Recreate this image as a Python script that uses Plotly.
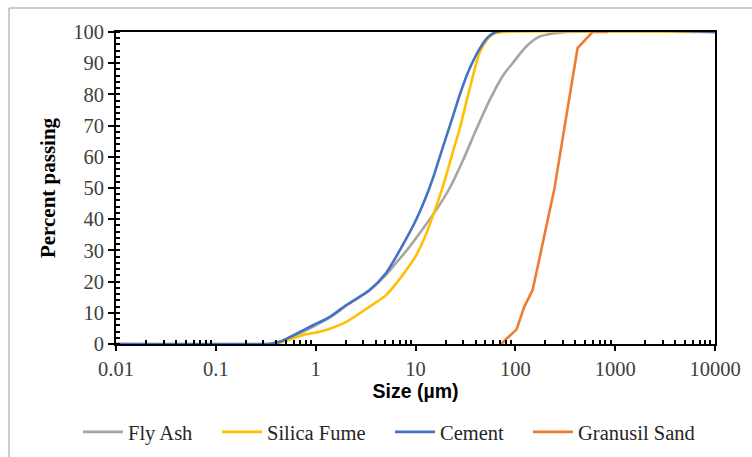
import plotly.graph_objects as go

# ---- data ----
fly_ash_x = [0.01, 0.33, 0.4, 0.5, 0.7, 1.0, 1.4, 2.03, 3.47, 5, 6.4, 8.4, 11, 16.1, 22, 30, 40.4, 55, 75, 94, 130, 174, 250, 330, 10000]
fly_ash_y = [0, 0, 0.3, 1.5, 3.5, 6, 8.6, 12.3, 17.2, 22, 26, 30.5, 35.5, 42.9, 50, 59, 68.6, 78, 86, 90, 95.5, 98.5, 99.6, 100, 100]

silica_x = [0.01, 0.38, 0.5, 0.75, 1.1, 1.5, 2.03, 3.47, 5, 6.4, 8, 10.2, 12.5, 14.9, 18.8, 24.5, 27.5, 35, 43.7, 52, 61.7, 75, 10000]
silica_y = [0, 0, 1.0, 2.9, 3.9, 5.3, 7.1, 12, 15.5, 19.4, 23.5, 28.5, 34.5, 41, 50.5, 63.2, 68.6, 82, 93.2, 97.5, 99.6, 100, 100]

cement_x = [0.01, 0.3, 0.35, 0.44, 0.6, 0.94, 1.4, 2.03, 3.47, 5, 6.4, 8, 10.2, 12.5, 14.9, 17.5, 20.3, 24, 27.5, 34, 43.7, 53, 64, 10000]
cement_y = [0, 0, 0.1, 0.7, 2.8, 6.0, 8.8, 12.5, 17.3, 22.5, 28, 33.5, 40, 46.5, 53, 60, 66.4, 73.5, 79.5, 87.5, 94.5, 98.3, 100, 100]

sand_x = [72, 103, 123, 149, 245, 420, 593, 842]
sand_y = [0, 4.7, 12, 17.3, 49.4, 94.8, 100, 100]

x_tick_vals = [0.01, 0.1, 1, 10, 100, 1000, 10000]
x_tick_text = ["0.01", "0.1", "1", "10", "100", "1000", "10000"]

series_names = ["Fly Ash", "Silica Fume", "Cement", "Granusil Sand"]
series_colors = ["#A5A5A5", "#FFC000", "#4472C4", "#ED7D31"]
series_x = [fly_ash_x, silica_x, cement_x, sand_x]
series_y = [fly_ash_y, silica_y, cement_y, sand_y]
series_shape = ["spline", "spline", "spline", "linear"]

legend_ids = ["legend", "legend2", "legend3", "legend4"]
legend_left_px = [78, 217, 390, 528]   # left edge of each legend entry (pixels)

fig = go.Figure()
for name, xs, ys, col, shape, lg in zip(series_names, series_x, series_y, series_colors, series_shape, legend_ids):
    fig.add_trace(go.Scatter(
        x=xs, y=ys, name=name, mode="lines", legend=lg,
        line=dict(color=col, width=2.6, shape=shape, smoothing=0.8),
    ))

minor_vals = [m * 10 ** e for e in range(-2, 4) for m in range(2, 10)]

tick_font = dict(family="Liberation Serif", size=20.5, color="#404040")

legend_font = dict(family="Liberation Serif", size=20.5, color="#262626")
legend_layout = {}
for lg, px in zip(legend_ids, legend_left_px):
    legend_layout[lg] = dict(
        orientation="h", xref="container", yref="container",
        x=px / 752, xanchor="left", y=1 - 432 / 457, yanchor="middle",
        font=legend_font, itemwidth=40, bgcolor="rgba(0,0,0,0)",
    )

fig.update_layout(
    width=752, height=457,
    margin=dict(l=116, r=37, t=32, b=113, autoexpand=False),
    paper_bgcolor="white", plot_bgcolor="white",
    font=dict(family="Liberation Serif", size=20, color="#000000"),
    showlegend=True,
    **legend_layout,
    xaxis=dict(
        type="log", range=[-2, 4],
        tickmode="array", tickvals=x_tick_vals, ticktext=x_tick_text,
        ticks="outside", ticklen=5, tickwidth=2, tickcolor="black",
        showline=True, linecolor="black", linewidth=2, mirror=True,
        showgrid=False, zeroline=False, tickfont=tick_font,
        minor=dict(tickmode="array", tickvals=minor_vals, ticks="inside",
                   ticklen=4, tickwidth=1.5, tickcolor="black", showgrid=False),
        title=dict(text="<b>Size (µm)</b>",
                   font=dict(family="Liberation Sans", size=19.5, color="#000000"),
                   standoff=0),
    ),
    yaxis=dict(
        range=[0, 100], tickmode="linear", tick0=0, dtick=10,
        ticks="outside", ticklen=6, tickwidth=2, tickcolor="black",
        showline=True, linecolor="black", linewidth=2, mirror=True,
        showgrid=False, zeroline=False, tickfont=tick_font,
        minor=dict(dtick=2, ticks="inside", ticklen=4, tickwidth=1.5,
                   tickcolor="black", showgrid=False),
        title=dict(text="<b>Percent passing</b>",
                   font=dict(family="Liberation Serif", size=21, color="#000000"),
                   standoff=12),
    ),
    shapes=[dict(type="rect", xref="paper", yref="paper",
                 x0=-0.1786, x1=1.3, y0=-0.6, y1=1.0769,
                 line=dict(color="#9A9A9A", width=1), layer="below")],
)

fig.write_html("out.html")
